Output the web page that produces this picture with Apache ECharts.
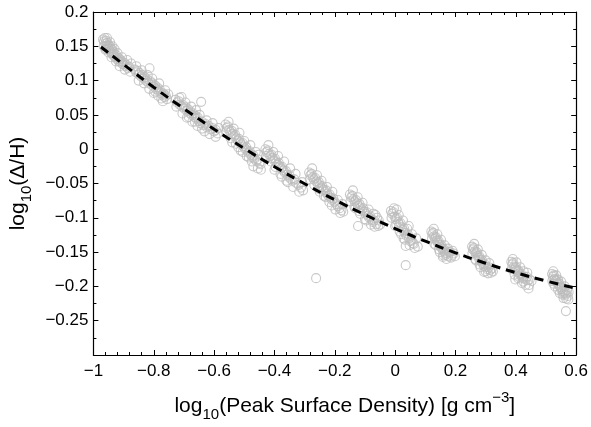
<!DOCTYPE html>
<html>
<head>
<meta charset="utf-8">
<script src="https://cdn.jsdelivr.net/npm/echarts@6/dist/echarts.min.js"></script>
<style>
  html, body { margin: 0; padding: 0; background: #fff; }
  #chart { width: 591px; height: 427px; }
</style>
</head>
<body>
<div id="chart"></div>
<script>
// ---- Data ----
const xTicks = [-1, -0.8, -0.6, -0.4, -0.2, 0, 0.2, 0.4, 0.6];
const yTicks = [-0.25, -0.2, -0.15, -0.1, -0.05, 0, 0.05, 0.1, 0.15, 0.2];

const cluster1 = [[-0.968,0.160],[-0.965,0.157],[-0.962,0.162],[-0.960,0.154],[-0.958,0.158],[-0.956,0.151],[-0.954,0.155],[-0.952,0.148],[-0.950,0.152],[-0.948,0.146],[-0.946,0.150],[-0.944,0.143],[-0.942,0.147],[-0.940,0.140],[-0.938,0.145],[-0.936,0.138],[-0.934,0.142],[-0.932,0.136],[-0.930,0.139],[-0.927,0.134],[-0.924,0.137],[-0.921,0.131],[-0.918,0.133],[-0.915,0.128],[-0.912,0.131],[-0.909,0.126],[-0.906,0.128],[-0.902,0.124],[-0.898,0.126],[-0.894,0.121],[-0.890,0.123],[-0.886,0.118],[-0.882,0.120],[-0.960,0.145],[-0.950,0.141],[-0.940,0.134],[-0.925,0.128],
  [-0.966,0.150],[-0.958,0.146],[-0.955,0.162],[-0.945,0.156],[-0.937,0.150],[-0.930,0.146],[-0.920,0.140],[-0.913,0.121],[-0.905,0.134],[-0.896,0.116],[-0.888,0.130],[-0.878,0.113],[-0.875,0.125]];
const cluster2 = [[-0.862,0.116],[-0.858,0.112],[-0.854,0.114],[-0.850,0.109],[-0.846,0.111],[-0.842,0.106],[-0.838,0.108],[-0.834,0.103],[-0.830,0.105],[-0.826,0.100],[-0.822,0.102],[-0.818,0.097],[-0.814,0.118],[-0.812,0.099],[-0.808,0.094],[-0.804,0.096],[-0.800,0.091],[-0.796,0.093],[-0.792,0.088],[-0.788,0.090],[-0.784,0.085],[-0.780,0.087],[-0.776,0.082],[-0.772,0.079],[-0.768,0.081],[-0.764,0.076],[-0.760,0.078],[-0.756,0.073],[-0.800,0.082],[-0.786,0.078],[-0.770,0.070],
  [-0.858,0.121],[-0.850,0.100],[-0.840,0.115],[-0.832,0.096],[-0.820,0.108],[-0.815,0.088],[-0.805,0.103],[-0.795,0.084],[-0.782,0.096],[-0.775,0.074],[-0.762,0.086],[-0.752,0.080]];
const cluster3 = [[-0.728,0.072],[-0.722,0.068],[-0.718,0.070],[-0.714,0.065],[-0.708,0.076],[-0.706,0.062],[-0.702,0.064],[-0.698,0.059],[-0.694,0.061],[-0.690,0.056],[-0.686,0.058],[-0.682,0.053],[-0.678,0.055],[-0.674,0.050],[-0.670,0.052],[-0.666,0.047],[-0.662,0.049],[-0.658,0.044],[-0.654,0.046],[-0.650,0.041],[-0.643,0.069],[-0.646,0.038],[-0.640,0.040],[-0.636,0.035],[-0.630,0.037],[-0.624,0.032],[-0.618,0.034],[-0.612,0.029],[-0.606,0.031],[-0.600,0.026],[-0.594,0.028],[-0.588,0.023],[-0.690,0.046],[-0.672,0.040],[-0.655,0.034],[-0.632,0.026],
  [-0.725,0.062],[-0.715,0.075],[-0.705,0.052],[-0.695,0.068],[-0.684,0.047],[-0.676,0.062],[-0.664,0.040],[-0.660,0.057],[-0.648,0.050],[-0.640,0.030],[-0.625,0.042],[-0.615,0.022],[-0.605,0.038],[-0.595,0.018],[-0.585,0.031]];
const cluster4 = [[-0.562,0.036],[-0.558,0.031],[-0.554,0.033],[-0.550,0.028],[-0.546,0.025],[-0.542,0.027],[-0.538,0.022],[-0.534,0.019],[-0.530,0.021],[-0.526,0.016],[-0.522,0.013],[-0.518,0.015],[-0.514,0.010],[-0.510,0.007],[-0.506,0.009],[-0.502,0.004],[-0.498,0.001],[-0.494,0.003],[-0.490,-0.002],[-0.486,-0.005],[-0.482,-0.003],[-0.478,-0.008],[-0.474,-0.011],[-0.470,-0.009],[-0.466,-0.014],[-0.460,-0.017],[-0.455,-0.015],[-0.450,-0.020],[-0.540,0.010],[-0.520,0.003],[-0.505,-0.004],[-0.485,-0.012],[-0.470,-0.025],[-0.455,-0.028],[-0.445,-0.030],
  [-0.560,0.026],[-0.552,0.040],[-0.545,0.016],[-0.535,0.030],[-0.528,0.008],[-0.516,0.024],[-0.512,-0.002],[-0.500,0.012],[-0.492,-0.010],[-0.480,0.006],[-0.475,-0.018],[-0.462,-0.004],[-0.452,-0.008],[-0.446,-0.022]];
const cluster5 = [[-0.430,0.000],[-0.426,-0.004],[-0.422,-0.002],[-0.418,-0.007],[-0.414,-0.010],[-0.410,-0.008],[-0.406,-0.013],[-0.402,-0.016],[-0.398,-0.014],[-0.394,-0.019],[-0.390,-0.022],[-0.386,-0.020],[-0.382,-0.025],[-0.378,-0.028],[-0.374,-0.026],[-0.370,-0.031],[-0.366,-0.034],[-0.362,-0.032],[-0.358,-0.037],[-0.354,-0.040],[-0.350,-0.038],[-0.346,-0.043],[-0.340,-0.046],[-0.334,-0.044],[-0.328,-0.049],[-0.320,-0.052],[-0.312,-0.056],[-0.305,-0.060],[-0.400,-0.030],[-0.380,-0.036],[-0.360,-0.046],
  [-0.428,-0.010],[-0.420,0.006],[-0.412,-0.018],[-0.404,-0.004],[-0.396,-0.026],[-0.388,-0.010],[-0.376,-0.040],[-0.368,-0.018],[-0.356,-0.048],[-0.348,-0.028],[-0.338,-0.055],[-0.330,-0.036],[-0.318,-0.062],[-0.308,-0.048]];
const cluster6 = [[-0.285,-0.034],[-0.281,-0.038],[-0.277,-0.036],[-0.273,-0.041],[-0.269,-0.044],[-0.265,-0.042],[-0.261,-0.047],[-0.257,-0.050],[-0.253,-0.048],[-0.249,-0.053],[-0.245,-0.056],[-0.241,-0.054],[-0.237,-0.059],[-0.233,-0.062],[-0.229,-0.060],[-0.225,-0.065],[-0.221,-0.068],[-0.217,-0.066],[-0.213,-0.071],[-0.209,-0.074],[-0.205,-0.072],[-0.200,-0.077],[-0.195,-0.080],[-0.190,-0.083],[-0.184,-0.086],[-0.178,-0.089],[-0.172,-0.091],[-0.250,-0.062],[-0.230,-0.070],[-0.210,-0.082],
  [-0.283,-0.044],[-0.275,-0.028],[-0.268,-0.052],[-0.259,-0.038],[-0.252,-0.058],[-0.244,-0.046],[-0.236,-0.068],[-0.226,-0.055],[-0.218,-0.077],[-0.208,-0.062],[-0.198,-0.088],[-0.190,-0.074],[-0.182,-0.093],[-0.175,-0.080]];
const cluster7 = [[-0.150,-0.066],[-0.146,-0.070],[-0.142,-0.068],[-0.138,-0.073],[-0.134,-0.076],[-0.130,-0.074],[-0.126,-0.079],[-0.123,-0.112],[-0.122,-0.082],[-0.118,-0.080],[-0.114,-0.085],[-0.110,-0.088],[-0.106,-0.086],[-0.102,-0.091],[-0.098,-0.094],[-0.094,-0.092],[-0.090,-0.097],[-0.086,-0.100],[-0.082,-0.098],[-0.078,-0.103],[-0.074,-0.106],[-0.070,-0.104],[-0.065,-0.096],[-0.062,-0.109],[-0.056,-0.112],[-0.050,-0.110],[-0.135,-0.084],[-0.120,-0.090],[-0.100,-0.102],
  [-0.148,-0.076],[-0.140,-0.060],[-0.132,-0.086],[-0.124,-0.070],[-0.116,-0.094],[-0.108,-0.078],[-0.096,-0.104],[-0.088,-0.088],[-0.080,-0.110],[-0.072,-0.094],[-0.060,-0.100],[-0.054,-0.104],[-0.068,-0.113]];
const cluster8 = [[-0.014,-0.090],[-0.010,-0.094],[-0.006,-0.092],[-0.002,-0.098],[0.002,-0.102],[0.006,-0.100],[0.010,-0.106],[0.014,-0.110],[0.018,-0.108],[0.022,-0.114],[0.026,-0.118],[0.030,-0.116],[0.034,-0.122],[0.038,-0.126],[0.042,-0.124],[0.046,-0.130],[0.050,-0.134],[0.054,-0.132],[0.058,-0.137],[0.035,-0.141],[0.065,-0.144],[0.035,-0.169],[0.000,-0.112],[0.015,-0.120],[0.028,-0.130],[0.045,-0.112],[0.005,-0.088],
  [-0.012,-0.100],[-0.004,-0.086],[0.004,-0.110],[0.012,-0.096],[0.020,-0.124],[0.026,-0.104],[0.032,-0.132],[0.040,-0.116],[0.048,-0.140],[0.056,-0.124],[0.062,-0.138],[0.070,-0.130],[0.075,-0.142]];
const cluster9 = [[0.120,-0.120],[0.123,-0.124],[0.126,-0.122],[0.129,-0.127],[0.132,-0.130],[0.135,-0.128],[0.138,-0.133],[0.141,-0.136],[0.144,-0.134],[0.147,-0.139],[0.150,-0.142],[0.153,-0.140],[0.156,-0.145],[0.159,-0.148],[0.162,-0.146],[0.165,-0.151],[0.168,-0.154],[0.172,-0.152],[0.176,-0.156],[0.182,-0.150],[0.188,-0.155],[0.194,-0.152],[0.130,-0.138],[0.145,-0.146],[0.160,-0.155],[0.175,-0.145],
  [0.122,-0.130],[0.128,-0.116],[0.134,-0.140],[0.140,-0.124],[0.148,-0.150],[0.152,-0.132],[0.158,-0.157],[0.164,-0.140],[0.170,-0.160],[0.178,-0.150],[0.185,-0.158],[0.190,-0.148],[0.198,-0.156]];
const cluster10 = [[0.255,-0.142],[0.258,-0.146],[0.261,-0.144],[0.264,-0.149],[0.267,-0.152],[0.270,-0.150],[0.273,-0.155],[0.276,-0.158],[0.279,-0.156],[0.282,-0.161],[0.285,-0.164],[0.288,-0.162],[0.291,-0.167],[0.294,-0.170],[0.298,-0.168],[0.302,-0.172],[0.306,-0.175],[0.310,-0.172],[0.315,-0.176],[0.265,-0.160],[0.280,-0.168],[0.300,-0.178],[0.320,-0.174],
  [0.256,-0.152],[0.262,-0.138],[0.268,-0.162],[0.274,-0.146],[0.283,-0.172],[0.287,-0.154],[0.295,-0.179],[0.300,-0.162],[0.308,-0.181],[0.312,-0.166],[0.318,-0.180],[0.324,-0.178]];
const cluster11 = [[0.385,-0.164],[0.388,-0.168],[0.391,-0.166],[0.394,-0.171],[0.397,-0.174],[0.400,-0.172],[0.403,-0.176],[0.406,-0.179],[0.409,-0.177],[0.412,-0.181],[0.415,-0.184],[0.418,-0.182],[0.421,-0.186],[0.424,-0.188],[0.428,-0.186],[0.432,-0.190],[0.436,-0.186],[0.440,-0.191],[0.444,-0.198],[0.398,-0.190],[0.410,-0.186],[0.425,-0.193],
  [0.386,-0.175],[0.390,-0.160],[0.396,-0.183],[0.402,-0.165],[0.408,-0.188],[0.414,-0.172],[0.420,-0.195],[0.426,-0.178],[0.432,-0.198],[0.438,-0.180],[0.446,-0.190],[0.452,-0.192],[0.442,-0.203]];
const cluster12 = [[0.520,-0.182],[0.523,-0.186],[0.526,-0.184],[0.529,-0.189],[0.532,-0.192],[0.535,-0.190],[0.538,-0.195],[0.541,-0.198],[0.544,-0.196],[0.547,-0.201],[0.550,-0.204],[0.553,-0.202],[0.556,-0.207],[0.559,-0.210],[0.562,-0.208],[0.565,-0.212],[0.568,-0.210],[0.572,-0.214],[0.525,-0.196],[0.540,-0.205],[0.555,-0.212],[0.566,-0.236],
  [0.521,-0.192],[0.524,-0.178],[0.530,-0.200],[0.534,-0.184],[0.540,-0.190],[0.546,-0.210],[0.550,-0.193],[0.558,-0.217],[0.562,-0.200],[0.567,-0.218],[0.570,-0.205],[0.574,-0.219],[0.575,-0.208]];
const outliers = [[-0.262,-0.188]];

// dashed fit curve, read at regular x positions
const fitX = [-0.975, -0.9, -0.8, -0.7, -0.6, -0.5, -0.4, -0.3, -0.2, -0.1, 0, 0.1, 0.2, 0.3, 0.4, 0.5, 0.6];
const fitY = [0.149, 0.1235, 0.0903, 0.0591, 0.0292, 0.0010, -0.0255, -0.0504, -0.0738, -0.0955, -0.1156, -0.1341, -0.1510, -0.1663, -0.1800, -0.1921, -0.2026];

// ---- Chart ----
const points = [].concat(cluster1, cluster2, cluster3, cluster4, cluster5, cluster6,
  cluster7, cluster8, cluster9, cluster10, cluster11, cluster12, outliers);
const fitLine = fitX.map((x, i) => [x, fitY[i]]);

const FONT = '"Liberation Sans", Arial, Helvetica, sans-serif';
function fmt(v) {
  const r = Math.round(v * 100) / 100;
  if (Math.abs(r) < 1e-9) return '0';
  return (r < 0 ? '\u2212' : '') + String(Math.abs(r));
}

const chart = echarts.init(document.getElementById('chart'), null, { renderer: 'canvas' });

const baseTick = { show: true, inside: true, length: 5, lineStyle: { color: '#000', width: 1 } };
const baseMinor = { show: true, length: 3, lineStyle: { color: '#000', width: 1 } };
const axisLine = { show: true, onZero: false, lineStyle: { color: '#000', width: 1.2 } };

const titleRich = {
  m: { fontSize: 21, fontFamily: FONT, color: '#000', lineHeight: 32, verticalAlign: 'middle' },
  sub: { fontSize: 15, fontFamily: FONT, color: '#000', lineHeight: 15, verticalAlign: 'bottom' },
  sup: { fontSize: 15, fontFamily: FONT, color: '#000', lineHeight: 15, verticalAlign: 'top' }
};

chart.setOption({
  animation: false,
  backgroundColor: '#fff',
  grid: { left: 83, right: 13, top: 12, bottom: 72, containLabel: false },
  xAxis: [
    {
      type: 'value', min: -1, max: 0.6, interval: 0.2, position: 'bottom',
      axisLine: axisLine, axisTick: baseTick, minorTick: Object.assign({ splitNumber: 5 }, baseMinor),
      splitLine: { show: false },
      axisLabel: { fontSize: 17, fontFamily: FONT, color: '#000', margin: 8, formatter: fmt },
      name: '{m|log}{sub|10}{m|(Peak Surface Density) [g cm}{sup|\u22123}{m|]}',
      nameLocation: 'middle', nameGap: 35,
      nameTextStyle: { rich: titleRich, fontSize: 21, fontFamily: FONT, color: '#000', padding: [0, 0, 0, 20] }
    },
    {
      type: 'value', min: -1, max: 0.6, interval: 0.2, position: 'top',
      axisLine: axisLine, axisTick: baseTick, minorTick: Object.assign({ splitNumber: 5 }, baseMinor),
      splitLine: { show: false }, axisLabel: { show: false }
    }
  ],
  yAxis: [
    {
      type: 'value', min: -0.3, max: 0.2, interval: 0.05, position: 'left',
      axisLine: axisLine, axisTick: baseTick, minorTick: Object.assign({ splitNumber: 2 }, baseMinor),
      splitLine: { show: false },
      axisLabel: {
        fontSize: 17, fontFamily: FONT, color: '#000', margin: 5,
        formatter: v => (v < -0.29 ? '' : fmt(v))
      },
      name: '{m|log}{sub|10}{m|(\u0394/H)}',
      nameLocation: 'middle', nameGap: 51, nameRotate: 90,
      nameTextStyle: { rich: titleRich, fontSize: 21, fontFamily: FONT, color: '#000' }
    },
    {
      type: 'value', min: -0.3, max: 0.2, interval: 0.05, position: 'right',
      axisLine: axisLine, axisTick: baseTick, minorTick: Object.assign({ splitNumber: 2 }, baseMinor),
      splitLine: { show: false }, axisLabel: { show: false }
    }
  ],
  series: [
    {
      type: 'scatter', xAxisIndex: 0, yAxisIndex: 0, data: points,
      symbol: 'circle', symbolSize: 9,
      itemStyle: { color: 'rgba(0,0,0,0)', borderColor: '#bcbcbc', borderWidth: 1.1 },
      silent: true, z: 2
    },
    {
      type: 'line', xAxisIndex: 0, yAxisIndex: 0, data: fitLine,
      smooth: true, showSymbol: false, symbol: 'none',
      lineStyle: { color: '#000', width: 3, type: [9, 6] },
      silent: true, z: 3
    }
  ]
});
</script>
</body>
</html>
